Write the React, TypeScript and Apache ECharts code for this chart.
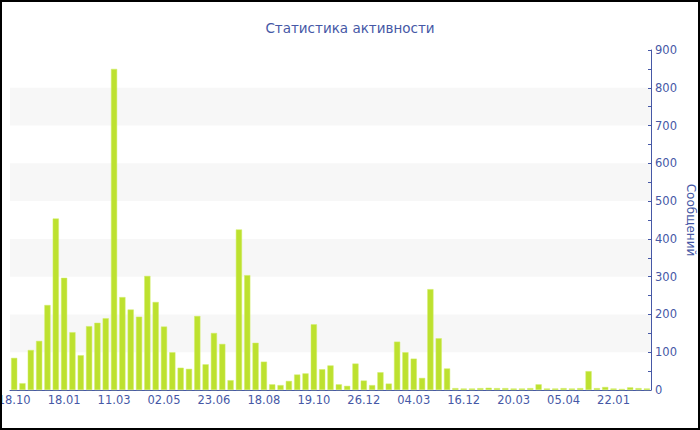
import React, { useEffect, useRef } from "react";
import * as echarts from "echarts";

const tickLabels = [
  "18.10", "18.01", "11.03", "02.05", "23.06", "18.08", "19.10",
  "26.12", "04.03", "16.12", "20.03", "05.04", "22.01",
];

const values = [
  85, 18, 106, 130, 225, 454, 297, 153, 92, 169,
  178, 190, 850, 246, 213, 194, 302, 233, 168, 100,
  59, 56, 196, 68, 151, 122, 26, 425, 304, 125,
  75, 15, 13, 24, 41, 44, 174, 55, 65, 15,
  11, 70, 25, 13, 47, 17, 128, 100, 83, 32,
  267, 137, 57, 5, 4, 4, 5, 6, 5, 5,
  4, 4, 5, 15, 4, 4, 5, 4, 5, 50,
  5, 8, 4, 3, 7, 5, 4,
];

const LABEL_STEP = 6;
const categories = values.map((_, i) =>
  i % LABEL_STEP === 0 ? tickLabels[i / LABEL_STEP] : `#${i}`
);

const AXIS_COLOR = "#4658a6";
const FONT = "DejaVu Sans";

export default function App() {
  const ref = useRef<HTMLDivElement>(null);
  useEffect(() => {
    document.body.style.margin = "0";
    if (!ref.current) return;
    const chart = echarts.init(ref.current, undefined, { renderer: "svg" });
    chart.setOption({
      animation: false,
      backgroundColor: "#ffffff",
      title: {
        text: "Статистика активности",
        left: "center",
        top: 14,
        textStyle: {
          color: AXIS_COLOR,
          fontFamily: FONT,
          fontSize: 13.5,
          fontWeight: "normal",
        },
      },
      grid: {
        left: 8,
        right: 47,
        top: 48,
        bottom: 38,
        containLabel: false,
        outerBoundsMode: "none",
      },
      xAxis: {
        type: "category",
        data: categories,
        axisLine: { lineStyle: { color: AXIS_COLOR, width: 1 } },
        axisTick: {
          alignWithLabel: true,
          interval: LABEL_STEP - 1,
          length: 3,
          lineStyle: { color: AXIS_COLOR },
        },
        axisLabel: {
          interval: LABEL_STEP - 1,
          color: AXIS_COLOR,
          fontFamily: FONT,
          fontSize: 11.5,
          margin: 4,
          hideOverlap: false,
        },
        splitLine: { show: false },
      },
      yAxis: {
        type: "value",
        position: "right",
        min: 0,
        max: 900,
        interval: 100,
        name: "Сообщений",
        nameLocation: "middle",
        nameRotate: -90,
        nameGap: 34,
        nameMoveOverlap: false,
        nameTextStyle: { color: AXIS_COLOR, fontFamily: FONT, fontSize: 12 },
        axisLine: { show: true, lineStyle: { color: AXIS_COLOR, width: 1 } },
        axisTick: { show: true, inside: true, length: 3, lineStyle: { color: AXIS_COLOR } },
        minorTick: { show: true, splitNumber: 2, length: 3, lineStyle: { color: AXIS_COLOR } },
        axisLabel: {
          color: AXIS_COLOR,
          fontFamily: FONT,
          fontSize: 11.5,
          margin: 4,
        },
        splitLine: { show: false },
        splitArea: {
          show: true,
          areaStyle: { color: ["rgba(255,255,255,0)", "#f7f7f7"] },
        },
      },
      series: [
        {
          type: "bar",
          data: values,
          barCategoryGap: "26%",
          itemStyle: {
            color: "#bde12f",
            borderColor: "#d2ee6a",
            borderWidth: 0.5,
          },
        },
      ],
    });
    return () => chart.dispose();
  }, []);

  return (
    <div
      style={{
        width: 700,
        height: 430,
        boxSizing: "border-box",
        border: "2px solid #000",
        background: "#fff",
      }}
    >
      <div ref={ref} style={{ width: 696, height: 426 }} />
    </div>
  );
}
